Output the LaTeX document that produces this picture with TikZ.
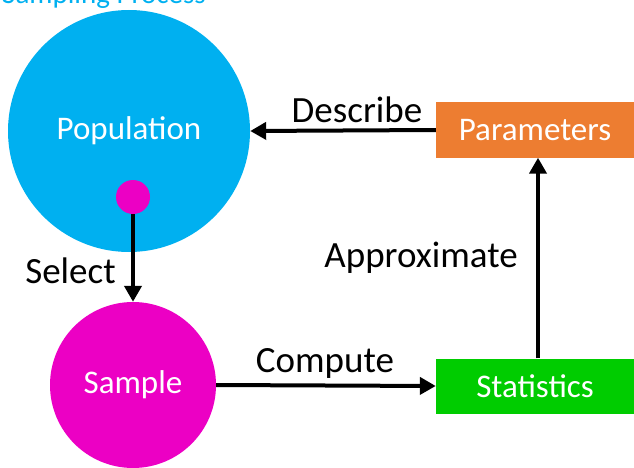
\documentclass[tikz,border=0pt]{standalone}
\usepackage{fontspec}
\setmainfont{Carlito}
\definecolor{popblue}{RGB}{0, 176, 240}
\definecolor{sampmagenta}{RGB}{236, 0, 196}
\definecolor{statgreen}{RGB}{0, 204, 0}
\definecolor{parorange}{RGB}{237, 125, 49}
\usetikzlibrary{arrows.meta, positioning}
\tikzset{
	ball/.style={circle, inner sep=0pt, text=white, font=\fontsize{33}{36}\selectfont},
	box/.style={rectangle, inner sep=0pt, minimum width=198pt, minimum height=55pt, text=white, font=\fontsize{33}{36}\selectfont},
	flow/.style={line width=4pt, -{Triangle[width=17pt,length=16pt]}},
	lbl/.style={font=\fontsize{37}{40}\selectfont}
}
\begin{document}
\begin{tikzpicture}[x=1pt,y=-1pt]
			\useasboundingbox (0,0) rectangle (634,468);
			
			% title, cut off at the top edge
			\node[anchor=base west, inner sep=0pt, text=popblue, font=\fontsize{29}{31}\selectfont] (title) at (2,4) {Sampling Process};
			
			\node[ball, fill=popblue, minimum size=242pt] (pop) at (129,131) {Population};
			\node[ball, fill=sampmagenta, minimum size=34pt] (dot) at (133,197) {};
			\node[ball, fill=sampmagenta, minimum size=166pt] (samp) at (133,385) {Sample};
			\node[box, fill=statgreen] (stats) at (535,386) {Statistics};
			\node[box, fill=parorange] (params) at (535,130) {Parameters};
			
			\draw[flow] (dot.south) -- (samp.north) node[pos=0.65, left=12pt, lbl] {Select};
			\draw[flow] (samp.east) -- (stats.west) node[midway, above=2pt, xshift=-1pt, lbl] {Compute};
			\draw[flow] (stats.north -| 538,0) -- (params.south -| 538,0) node[midway, left=15pt, lbl] {Approximate};
			\draw[flow] (params.west) -- (pop.east) node[midway, above=2pt, xshift=14pt, lbl] {Describe};
			
		\end{tikzpicture}
\end{document}
